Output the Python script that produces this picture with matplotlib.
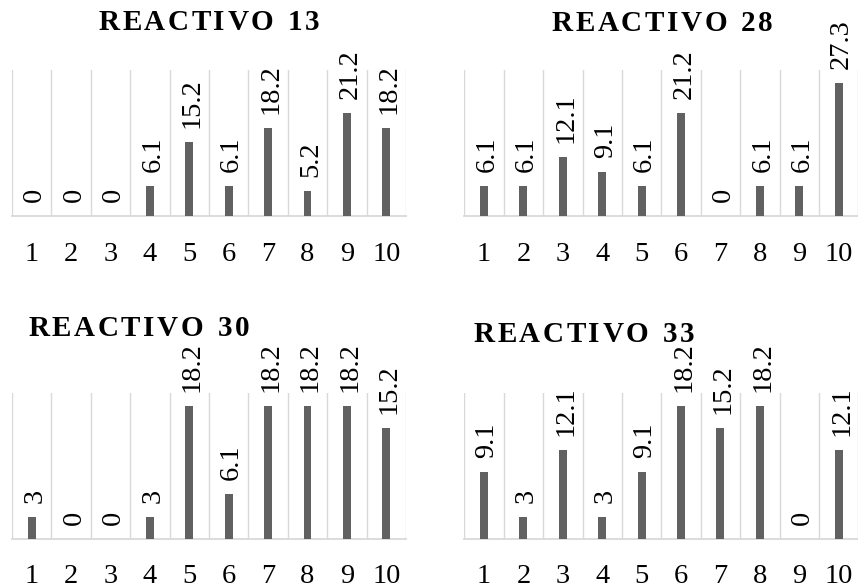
import matplotlib
matplotlib.use("Agg")
import matplotlib.pyplot as plt
import numpy as np

plt.rcParams['font.family'] = ['Liberation Serif', 'DejaVu Serif']

categories = ['1', '2', '3', '4', '5', '6', '7', '8', '9', '10']
titles = ['REACTIVO 13', 'REACTIVO 28', 'REACTIVO 30', 'REACTIVO 33']
r13 = [0, 0, 0, 6.1, 15.2, 6.1, 18.2, 5.2, 21.2, 18.2]
r28 = [6.1, 6.1, 12.1, 9.1, 6.1, 21.2, 0, 6.1, 6.1, 27.3]
r30 = [3, 0, 0, 3, 18.2, 6.1, 18.2, 18.2, 18.2, 15.2]
r33 = [9.1, 3, 12.1, 3, 9.1, 18.2, 15.2, 18.2, 0, 12.1]
labels13 = ['0', '0', '0', '6.1', '15.2', '6.1', '18.2', '5.2', '21.2', '18.2']
labels28 = ['6.1', '6.1', '12.1', '9.1', '6.1', '21.2', '0', '6.1', '6.1', '27.3']
labels30 = ['3', '0', '0', '3', '18.2', '6.1', '18.2', '18.2', '18.2', '15.2']
labels33 = ['9.1', '3', '12.1', '3', '9.1', '18.2', '15.2', '18.2', '0', '12.1']

W, H = 858, 588
fig = plt.figure(figsize=(W / 100, H / 100), dpi=100)
renderer = fig.canvas.get_renderer()

BAR = '#616161'
GRID = '#d9d9d9'
FS = 20.5
TFS = 21
TRACK = 2.6  # px letter spacing in titles
SPACE_EXTRA = 5.0

panels = [
    # (values, labels, title, axes rect px (left, top, right, bottom), ymax, title center x px, title baseline px)
    (r13, labels13, titles[0], (12, 70, 406, 216.2), 30, 209, 30.5),
    (r28, labels28, titles[1], (464.3, 70, 858.3, 216.2), 30, 662.5, 31.2),
    (r30, labels30, titles[2], (12, 392.7, 406, 538.6), 20, 138.7, 335.7),
    (r33, labels33, titles[3], (464.3, 392.7, 858.3, 538.6), 20, 584, 341.7),
]


def char_width(ch):
    if ch == ' ':
        a = fig.text(0, 0, 'A A', fontsize=TFS, fontweight='bold')
        b = fig.text(0, 0, 'AA', fontsize=TFS, fontweight='bold')
        w = a.get_window_extent(renderer).width - b.get_window_extent(renderer).width
        a.remove()
        b.remove()
        return w + SPACE_EXTRA
    t = fig.text(0, 0, ch, fontsize=TFS, fontweight='bold')
    w = t.get_window_extent(renderer).width
    t.remove()
    return w


def tracked_title(s, cx, baseline):
    widths = [char_width(c) for c in s]
    total = sum(widths) + TRACK * (len(s) - 1)
    xpos = cx - total / 2
    for c, w in zip(s, widths):
        if c != ' ':
            fig.text(xpos / W, (H - baseline) / H, c, ha='left', va='baseline',
                     fontsize=TFS, fontweight='bold')
        xpos += w + TRACK


x = np.arange(1, len(categories) + 1)
for vals, labs, title, (l, t, r, b), ymax, tx, ty in panels:
    ax = fig.add_axes([l / W, (H - b) / H, (r - l) / W, (b - t) / H])
    ax.bar(x, vals, width=0.2, color=BAR, zorder=3)
    ax.set_xlim(0.5, 10.5)
    ax.set_ylim(0, ymax)
    for g in np.arange(0.5, 11, 1.0):
        ax.axvline(g, color=GRID, lw=1.0, zorder=1)
    for s in ['top', 'left', 'right']:
        ax.spines[s].set_visible(False)
    ax.spines['bottom'].set_color(GRID)
    ax.spines['bottom'].set_linewidth(1.3)
    ax.spines['bottom'].set_zorder(2)
    ax.set_yticks([])
    ax.set_xticks(x)
    ax.set_xticklabels(categories, fontsize=FS)
    ax.tick_params(axis='x', length=0, pad=18.4)
    ax.patch.set_alpha(0)
    for xi, v, lab in zip(x, vals, labs):
        ax.annotate(lab, (xi, v), xytext=(3, 14), textcoords='offset pixels',
                    rotation=90, ha='center', va='bottom', fontsize=FS,
                    annotation_clip=False, zorder=4)
    tracked_title(title, tx, ty)

fig.savefig('out.png', dpi=100)
